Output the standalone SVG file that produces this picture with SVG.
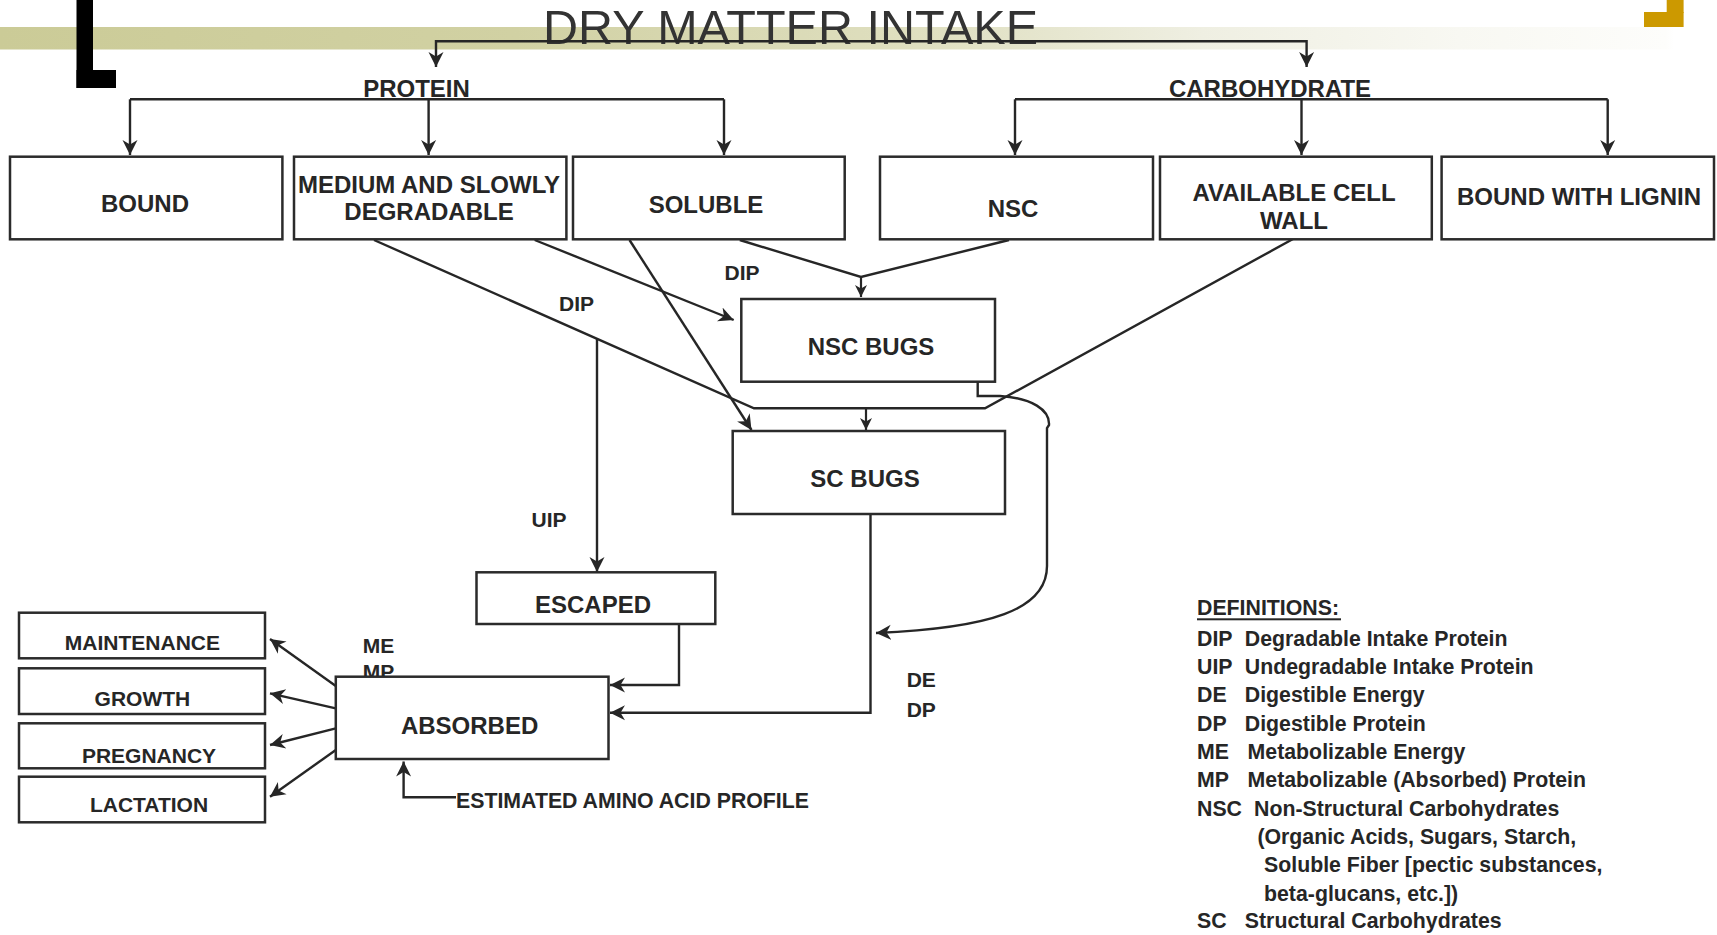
<svg xmlns="http://www.w3.org/2000/svg" width="1717" height="935" viewBox="0 0 1717 935">
<defs>
<linearGradient id="band" x1="0" y1="0" x2="1717" y2="0" gradientUnits="userSpaceOnUse">
<stop offset="0" stop-color="#cbcb97"/>
<stop offset="0.3" stop-color="#d1d1a3"/>
<stop offset="0.55" stop-color="#e0e0c2"/>
<stop offset="0.7" stop-color="#efefe2"/>
<stop offset="0.85" stop-color="#f8f8f2"/>
<stop offset="0.97" stop-color="#fdfdfb"/>
<stop offset="0.975" stop-color="#ffffff"/>
</linearGradient>
<marker id="ah" markerUnits="userSpaceOnUse" markerWidth="20" markerHeight="20" refX="15" refY="8" orient="auto" viewBox="0 0 20 16">
<path d="M15,8 L0,0.5 L4.5,8 L0,15.5 Z" fill="#262626"/>
</marker>
<marker id="ahs" markerUnits="userSpaceOnUse" markerWidth="16" markerHeight="16" refX="12" refY="6.5" orient="auto" viewBox="0 0 16 13">
<path d="M12,6.5 L0,0.5 L3.5,6.5 L0,12.5 Z" fill="#262626"/>
</marker>
</defs>
<style>
.box{fill:#fff;stroke:#2b2b2b;stroke-width:2.5}
.ln{fill:none;stroke:#262626;stroke-width:2.4}
.ar{fill:none;stroke:#262626;stroke-width:2.4;marker-end:url(#ah)}
.ars{fill:none;stroke:#262626;stroke-width:2.2;marker-end:url(#ahs)}
.t{font-family:"Liberation Sans",Arial,sans-serif;font-weight:bold;fill:#262626}
.b24{font-size:24px;text-anchor:middle}
.b21{font-size:21px;text-anchor:middle}
.l21{font-size:21px}
.d{font-size:21.3px}
</style>
<rect x="0" y="27" width="1717" height="22.5" fill="url(#band)"/>
<rect x="76.5" y="0" width="16.5" height="88" fill="#000"/>
<rect x="76.5" y="70" width="39.5" height="18" fill="#000"/>
<rect x="1644" y="12" width="39.6" height="15" fill="#cc9900"/>
<rect x="1666.7" y="0" width="16.9" height="13" fill="#cc9900"/>
<text x="543" y="43.5" font-family="'Liberation Sans',Arial,sans-serif" font-size="47.5" fill="#333" textLength="495" lengthAdjust="spacingAndGlyphs">DRY MATTER INTAKE</text>

<g id="connectors">
<path class="ar" d="M870,41.3 H436 V67"/>
<path class="ar" d="M870,41.3 H1306.6 V67"/>
<path class="ln" d="M130,99.3 H724"/>
<path class="ar" d="M130,99.3 V155"/>
<path class="ar" d="M428.6,99.3 V155"/>
<path class="ar" d="M724,99.3 V155"/>
<path class="ln" d="M1015,99.3 H1607.7"/>
<path class="ar" d="M1015,99.3 V155"/>
<path class="ar" d="M1301.5,99.3 V155"/>
<path class="ar" d="M1607.7,99.3 V155"/>
<path class="ln" d="M374,240 L754,408.3 H985 L1293,239"/>
<path class="ars" d="M866,408.3 V430"/>
<path class="ar" d="M534.7,240 L733.7,320"/>
<path class="ar" d="M629.5,240 L751.5,430"/>
<path class="ln" d="M739.8,240 L861,277 L1009,240"/>
<path class="ars" d="M861,277 V297"/>
<path class="ar" d="M597,338.8 V572"/>
<path class="ar" d="M977.7,381 V396 H1000 C1032,398 1050,410 1049,425 L1047,428 V566 C1047,610 990,628 876,633"/>
<path class="ar" d="M870.5,514 V712.7 H610"/>
<path class="ar" d="M679,624 V685 H610"/>
<path class="ar" d="M335.8,686 L270,639"/>
<path class="ar" d="M335.8,708.3 L270,693.3"/>
<path class="ar" d="M335.8,728.3 L270,745"/>
<path class="ar" d="M335.8,750 L270,796.7"/>
<path class="ar" d="M456,797.3 H403.6 V761.5"/>
</g>

<text class="t b24" x="416.5" y="96.7">PROTEIN</text>
<text class="t b24" x="1270" y="96.7">CARBOHYDRATE</text>

<g id="bound"><rect class="box" x="10" y="156.7" width="272.4" height="82.6"/><text class="t b24" x="145" y="212">BOUND</text></g>
<g id="medium"><rect class="box" x="294" y="156.7" width="272.4" height="82.6"/><text class="t b24" x="429" y="192.7">MEDIUM AND SLOWLY</text><text class="t b24" x="429" y="220">DEGRADABLE</text></g>
<g id="soluble"><rect class="box" x="573" y="156.7" width="271.7" height="82.6"/><text class="t b24" x="706" y="213">SOLUBLE</text></g>
<g id="nsc"><rect class="box" x="880" y="156.7" width="273" height="82.6"/><text class="t b24" x="1013" y="217">NSC</text></g>
<g id="available"><rect class="box" x="1160" y="156.7" width="271.8" height="82.6"/><text class="t b24" x="1294" y="201">AVAILABLE CELL</text><text class="t b24" x="1294" y="229.3">WALL</text></g>
<g id="lignin"><rect class="box" x="1441.6" y="156.7" width="272.4" height="82.6"/><text class="t b24" x="1579" y="205">BOUND WITH LIGNIN</text></g>

<g id="nscbugs"><rect class="box" x="741.3" y="299" width="253.7" height="82.7"/><text class="t b24" x="871" y="355">NSC BUGS</text></g>
<g id="scbugs"><rect class="box" x="732.7" y="431" width="272.3" height="83"/><text class="t b24" x="865" y="486.7">SC BUGS</text></g>
<g id="escaped"><rect class="box" x="476.5" y="572.3" width="238.8" height="51.7"/><text class="t b24" x="593" y="613.3">ESCAPED</text></g>

<text class="t l21" x="724.5" y="280">DIP</text>
<text class="t l21" x="559" y="311">DIP</text>
<text class="t l21" x="531.5" y="526.7">UIP</text>
<text class="t l21" x="362.8" y="652.7">ME</text>
<text class="t l21" x="362.8" y="678.7">MP</text>
<text class="t l21" x="906.7" y="686.7">DE</text>
<text class="t l21" x="906.7" y="717">DP</text>

<g id="absorbed"><rect class="box" x="335.8" y="676.7" width="272.7" height="82.3"/><text class="t b24" x="469.6" y="734">ABSORBED</text></g>
<g id="maintenance"><rect class="box" x="19" y="612.7" width="246" height="45.6"/><text class="t b21" x="142.4" y="650">MAINTENANCE</text></g>
<g id="growth"><rect class="box" x="19" y="668.3" width="246" height="45.7"/><text class="t b21" x="142.4" y="705.7">GROWTH</text></g>
<g id="pregnancy"><rect class="box" x="19" y="723.3" width="246" height="45"/><text class="t b21" x="149" y="763.3">PREGNANCY</text></g>
<g id="lactation"><rect class="box" x="19" y="776.7" width="246" height="45.6"/><text class="t b21" x="149" y="811.7">LACTATION</text></g>

<text class="t" font-size="21.3" x="456" y="808.3">ESTIMATED AMINO ACID PROFILE</text>

<g id="definitions">
<text class="t d" x="1197" y="615">DEFINITIONS:</text>
<rect x="1197" y="618.3" width="144" height="2" fill="#262626"/>
<text class="t d" x="1197" y="646">DIP</text><text class="t d" x="1244.8" y="646">Degradable Intake Protein</text>
<text class="t d" x="1197" y="674.3">UIP</text><text class="t d" x="1244.8" y="674.3">Undegradable Intake Protein</text>
<text class="t d" x="1197" y="702.3">DE</text><text class="t d" x="1244.8" y="702.3">Digestible Energy</text>
<text class="t d" x="1197" y="730.7">DP</text><text class="t d" x="1244.8" y="730.7">Digestible Protein</text>
<text class="t d" x="1197" y="759">ME</text><text class="t d" x="1247.6" y="759">Metabolizable Energy</text>
<text class="t d" x="1197" y="787.3">MP</text><text class="t d" x="1247.6" y="787.3">Metabolizable (Absorbed) Protein</text>
<text class="t d" x="1197" y="815.7">NSC</text><text class="t d" x="1254" y="815.7">Non-Structural Carbohydrates</text>
<text class="t d" x="1257.4" y="844">(Organic Acids, Sugars, Starch,</text>
<text class="t d" x="1264" y="872.3">Soluble Fiber [pectic substances,</text>
<text class="t d" x="1264" y="900.7">beta-glucans, etc.])</text>
<text class="t d" x="1197" y="928.3">SC</text><text class="t d" x="1244.8" y="928.3">Structural Carbohydrates</text>
</g>
</svg>
